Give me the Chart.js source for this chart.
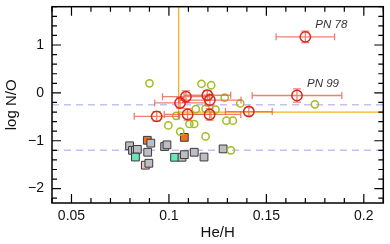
<!DOCTYPE html>
<html>
<head>
<meta charset="utf-8">
<script src="https://cdn.jsdelivr.net/npm/chart.js@4/dist/chart.umd.min.js"></script>
<style>
  html, body { margin: 0; padding: 0; background: #fff; }
  #wrap { width: 390px; height: 244px; }
</style>
</head>
<body>
<div id="wrap"><canvas id="c"></canvas></div>
<script>
// ============ DATA ============
const xTicks = [0.05, 0.1, 0.15, 0.2];
const yTicks = [-2, -1, 0, 1];
const dashLevels = [-0.25, -1.2];      // log N/O reference levels
const typeIHe = 0.105, typeINO = -0.4; // Type I corner

// PNe with error bars (red)
const redNames  = ['PN 78', 'PN 99', '', '', '', '', '', '', '', ''];
const redHe     = [0.170, 0.1657, 0.0937, 0.1057, 0.1087, 0.1096, 0.1197, 0.1210, 0.1209, 0.1410];
const redNO     = [1.17, -0.055, -0.49, -0.21, -0.08, -0.45, -0.05, -0.15, -0.45, -0.39];
const redHeErr  = [0.015, 0.023, 0.0115, 0.013, 0.012, 0.012, 0.012, 0.016, 0.016, 0.012];
const redNOErr  = [0.12, 0.14, 0.10, 0.11, 0.12, 0.12, 0.10, 0.12, 0.12, 0.08];

// literature PNe (green open circles)
const greenHe = [0.090, 0.1167, 0.1217, 0.1286, 0.1366, 0.1138, 0.1188, 0.1239, 0.1037,
                 0.0997, 0.1105, 0.1130, 0.1295, 0.1328, 0.1058, 0.1188, 0.1318, 0.1749];
const greenNO = [0.20, 0.19, 0.16, -0.10, -0.22, -0.34, -0.33, -0.35, -0.48,
                 -0.68, -0.65, -0.65, -0.58, -0.58, -0.81, -0.91, -1.20, -0.24];

// H II regions (squares); kind: g = gray, o = orange, t = teal, p = pink
const sqHe   = [0.0798, 0.0813, 0.0828, 0.0838, 0.0828, 0.0889, 0.0907, 0.0891, 0.0879, 0.0897,
                0.0978, 0.0990, 0.1029, 0.1067, 0.1079, 0.1079, 0.1130, 0.1180, 0.1278];
const sqNO   = [-1.105, -1.20, -1.20, -1.18, -1.34, -0.99, -1.05, -1.24, -1.51, -1.47,
                -1.12, -1.085, -1.345, -1.345, -1.29, -0.93, -1.24, -1.34, -1.17];
const sqKind = ['g', 'g', 'g', 'g', 't', 'o', 'g', 'g', 'p', 'g',
                'g', 'g', 't', 'g', 'g', 'o', 'g', 'g', 'g'];

const sqColors = { g: '#bdbdc4', o: '#f2701a', t: '#66e8b8', p: '#f4c0bc' };
const FONT = '"Liberation Sans", Arial, Helvetica, sans-serif';
const pts = (xs, ys) => xs.map((x, i) => ({ x, y: ys[i] }));
const fmt = v => (v < 0 ? '\u2212' : '') + Math.abs(v);

// ============ PLUGIN: frame, ticks, ref lines, error bars ============
const framePlugin = {
  id: 'frame',
  beforeDatasetsDraw(chart) {
    const ctx = chart.ctx, xs = chart.scales.x, ys = chart.scales.y;
    const { left, right, top, bottom } = chart.chartArea;
    ctx.save();
    ctx.beginPath(); ctx.rect(left, top, right - left, bottom - top); ctx.clip();
    // dashed levels
    ctx.strokeStyle = '#c2c2f2'; ctx.lineWidth = 1.5; ctx.setLineDash([7, 5]);
    dashLevels.forEach(v => {
      const py = ys.getPixelForValue(v);
      ctx.beginPath(); ctx.moveTo(left, py); ctx.lineTo(right, py); ctx.stroke();
    });
    ctx.setLineDash([]);
    // type I corner
    const cx = xs.getPixelForValue(typeIHe), cy = ys.getPixelForValue(typeINO);
    ctx.strokeStyle = '#f5b41c'; ctx.lineWidth = 1.3;
    ctx.beginPath(); ctx.moveTo(cx, top); ctx.lineTo(cx, cy); ctx.lineTo(right, cy); ctx.stroke();
    ctx.restore();
  },
  beforeDatasetDraw(chart, args) {
    if (args.index !== 0) return;
    const ctx = chart.ctx, xs = chart.scales.x, ys = chart.scales.y;
    ctx.save();
    ctx.strokeStyle = 'rgba(232,96,80,0.8)'; ctx.lineWidth = 1.3;
    redHe.forEach((he, i) => {
      const px = xs.getPixelForValue(he), py = ys.getPixelForValue(redNO[i]);
      const x0 = xs.getPixelForValue(he - redHeErr[i]), x1 = xs.getPixelForValue(he + redHeErr[i]);
      const y0 = ys.getPixelForValue(redNO[i] - redNOErr[i]), y1 = ys.getPixelForValue(redNO[i] + redNOErr[i]);
      ctx.beginPath();
      ctx.moveTo(x0, py); ctx.lineTo(x1, py);
      ctx.moveTo(x0, py - 3.5); ctx.lineTo(x0, py + 3.5);
      ctx.moveTo(x1, py - 3.5); ctx.lineTo(x1, py + 3.5);
      ctx.moveTo(px, y0); ctx.lineTo(px, y1);
      ctx.moveTo(px - 4, y0); ctx.lineTo(px + 4, y0);
      ctx.moveTo(px - 4, y1); ctx.lineTo(px + 4, y1);
      ctx.stroke();
    });
    ctx.restore();
  },
  afterDraw(chart) {
    const ctx = chart.ctx, xs = chart.scales.x, ys = chart.scales.y;
    const { left, right, top, bottom } = chart.chartArea;
    ctx.save();
    ctx.strokeStyle = '#000'; ctx.lineWidth = 1.5;
    ctx.strokeRect(left, top, right - left, bottom - top);
    ctx.lineWidth = 1.2;
    ctx.beginPath();
    // x ticks every 0.01, major at labelled values
    for (let i = Math.ceil(xs.min * 100); i <= Math.floor(xs.max * 100); i++) {
      const v = i / 100, px = xs.getPixelForValue(v);
      const len = xTicks.some(t => Math.abs(t - v) < 1e-9) ? 9 : 5;
      ctx.moveTo(px, bottom); ctx.lineTo(px, bottom - len);
      ctx.moveTo(px, top); ctx.lineTo(px, top + len);
    }
    // y ticks every 0.2
    for (let i = Math.ceil(ys.min * 5); i <= Math.floor(ys.max * 5); i++) {
      const v = i / 5, py = ys.getPixelForValue(v);
      const len = yTicks.some(t => Math.abs(t - v) < 1e-9) ? 9 : 5;
      ctx.moveTo(left, py); ctx.lineTo(left + len, py);
      ctx.moveTo(right, py); ctx.lineTo(right - len, py);
    }
    ctx.stroke();

    // tick labels
    ctx.fillStyle = '#111';
    ctx.font = '14px ' + FONT;
    ctx.textAlign = 'center'; ctx.textBaseline = 'middle';
    xTicks.forEach(v => ctx.fillText(String(v), xs.getPixelForValue(v), bottom + 13));
    ctx.textAlign = 'right';
    yTicks.forEach(v => ctx.fillText(fmt(v), left - 8, ys.getPixelForValue(v)));

    // axis titles
    ctx.font = '15px ' + FONT;
    ctx.textAlign = 'center';
    ctx.fillText('He/H', (left + right) / 2, bottom + 30);
    ctx.save();
    ctx.translate(12, (top + bottom) / 2);
    ctx.rotate(-Math.PI / 2);
    ctx.fillText('log N/O', 0, 0);
    ctx.restore();

    // object names
    ctx.font = 'italic 11.5px ' + FONT;
    ctx.fillStyle = '#333';
    ctx.textAlign = 'left';
    redNames.forEach((n, i) => {
      if (!n) return;
      ctx.fillText(n, xs.getPixelForValue(redHe[i]) + 10, ys.getPixelForValue(redNO[i]) - 12);
    });
    ctx.restore();
  }
};

// ============ CHART ============
new Chart(document.getElementById('c'), {
  type: 'scatter',
  data: {
    datasets: [
      { label: 'PNe', data: pts(redHe, redNO), pointStyle: 'circle', pointRadius: 5.2,
        borderColor: '#d8281a', backgroundColor: 'rgba(0,0,0,0)', borderWidth: 1.5, order: 0 },
      { label: 'PNe lit', data: pts(greenHe, greenNO), pointStyle: 'circle', pointRadius: 3.6,
        borderColor: '#a2bd1f', backgroundColor: 'rgba(0,0,0,0)', borderWidth: 1.5, order: 1 },
      { label: 'HII', data: pts(sqHe, sqNO), pointStyle: 'rect', pointRadius: 5.5,
        borderColor: '#3a3a3a', borderWidth: 1,
        backgroundColor: sqKind.map(k => sqColors[k]), order: 2 }
    ]
  },
  options: {
    responsive: true, maintainAspectRatio: false, animation: false,
    layout: { padding: { left: 52, right: 2, top: 1, bottom: 41 } },
    plugins: { legend: { display: false }, tooltip: { enabled: false } },
    scales: {
      x: { type: 'linear', min: 0.04, max: 0.21, display: false },
      y: { type: 'linear', min: -2.3, max: 1.8, display: false }
    }
  },
  plugins: [framePlugin]
});
</script>
</body>
</html>
